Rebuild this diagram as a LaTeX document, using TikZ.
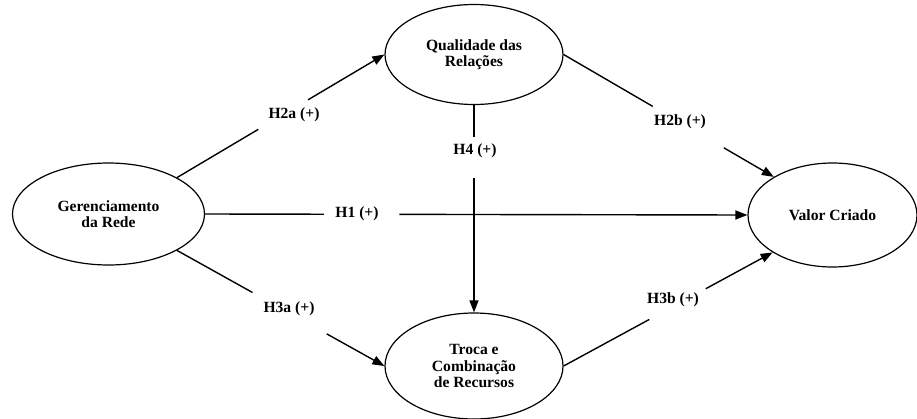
\documentclass[tikz,border=0pt]{standalone}
\usepackage{fontspec}
\setmainfont{Liberation Serif}
\usetikzlibrary{shapes.geometric,arrows.meta,calc}
\tikzset{
  construct/.style={draw, ellipse, line width=1.2pt, inner sep=0pt, align=center,
    font=\fontsize{15.6}{16.5}\selectfont\bfseries},
  hyp/.style={font=\fontsize{15.6}{16.5}\selectfont\bfseries, inner sep=0pt},
  link/.style={line width=1.4pt},
  arr/.style={link, -{Triangle[length=12pt,width=9pt]}}
}
\newcommand\gapline[4]{%
  \draw[link] (#1) -- ($(#1)!#3!(#2)$);
  \draw[arr] ($(#1)!#4!(#2)$) -- (#2);
}
\begin{document}
\begin{tikzpicture}[x=1pt,y=-1pt]
\useasboundingbox (0,0) rectangle (917,418);
\node[construct, minimum width=192pt, minimum height=102pt] (ger) at (108.5,214) {Gerenciamento\\da Rede};
\node[construct, minimum width=178pt, minimum height=100pt] (qual) at (474,54.5) {Qualidade das\\Relações};
\node[construct, minimum width=169pt, minimum height=104pt] (valor) at (832.5,215) {Valor Criado};
\node[construct, minimum width=178pt, minimum height=106pt] (troca) at (474,366) {Troca e\\Combinação\\de Recursos};

\node[hyp] (h2a) at (294,115) {H2a (+)};
\node[hyp] (h2b) at (680,122) {H2b (+)};
\node[hyp] (h1) at (357,214) {H1 (+)};
\node[hyp] (h4) at (475,151) {H4 (+)};
\node[hyp] (h3a) at (289,309) {H3a (+)};
\node[hyp] (h3b) at (673,300) {H3b (+)};

\gapline{ger.28.7}{qual.west}{0.392}{0.632}
\gapline{qual.east}{valor.147.4}{0.424}{0.762}
\gapline{ger.east}{valor.west}{0.219}{0.358}
\gapline{qual.south}{troca.north}{0.153}{0.354}
\gapline{ger.-28.7}{troca.west}{0.364}{0.722}
\gapline{troca.east}{valor.212.6}{0.41}{0.68}
\end{tikzpicture}
\end{document}
